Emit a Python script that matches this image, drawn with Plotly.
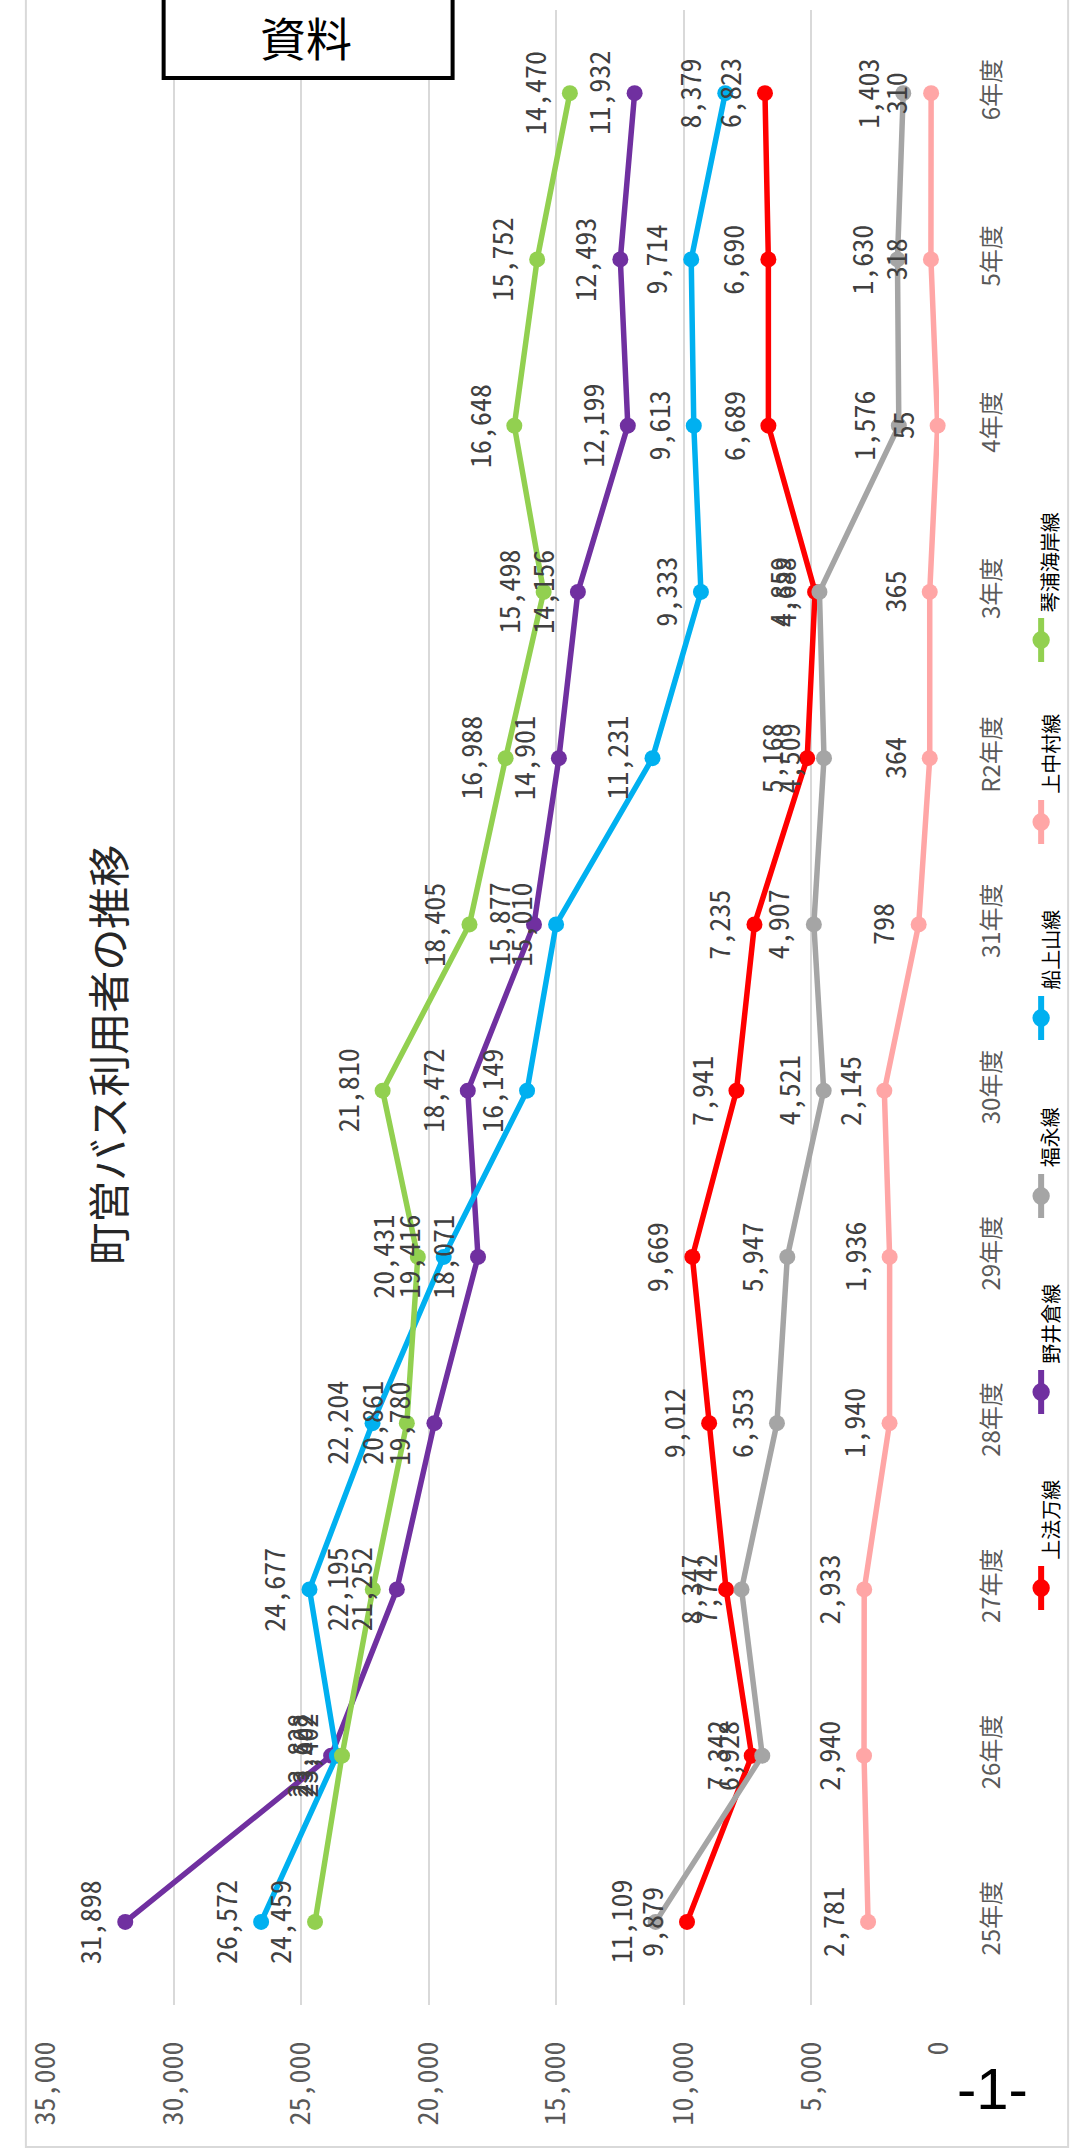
import plotly.graph_objects as go

categories = ["25年度", "26年度", "27年度", "28年度", "29年度", "30年度",
              "31年度", "R2年度", "3年度", "4年度", "5年度", "6年度"]

series_names = ["上法万線", "野井倉線", "福永線", "船上山線", "上中村線", "琴浦海岸線"]
kamihoman = [9879, 7342, 8347, 9012, 9669, 7941, 7235, 5168, 4859, 6689, 6690, 6823]
noikura = [31898, 23828, 21252, 19780, 18071, 18472, 15877, 14901, 14156, 12199, 12493, 11932]
fukunaga = [11109, 6928, 7742, 6353, 5947, 4521, 4907, 4509, 4688, 1576, 1630, 1403]
funanoueyama = [26572, 23602, 24677, 22204, 19416, 16149, 15010, 11231, 9333, 9613, 9714, 8379]
kaminakamura = [2781, 2940, 2933, 1940, 1936, 2145, 798, 364, 365, 55, 318, 310]
kotoura = [24459, 23402, 22195, 20861, 20431, 21810, 18405, 16988, 15498, 16648, 15752, 14470]

series_values = [kamihoman, noikura, fukunaga, funanoueyama, kaminakamura, kotoura]
colors = ["#FF0000", "#7030A0", "#A5A5A5", "#00B0F0", "#FFA6A6", "#92D050"]

W, H = 1088, 2150


def px(x):
    return x / W


def py(y):
    return 1 - y / H


MONO = "Noto Sans Mono CJK JP, Liberation Mono, monospace"
JP = "Noto Sans CJK JP, sans-serif"

fig = go.Figure()

for name, vals, col in zip(series_names, series_values, colors):
    fig.add_trace(go.Scatter(
        x=vals, y=categories, name=name, mode="lines+markers",
        line=dict(color=col, width=5.5),
        marker=dict(color=col, size=16),
        cliponaxis=False, showlegend=False,
    ))

annotations = []
for vals in series_values:
    for cat, v in zip(categories, vals):
        annotations.append(dict(
            x=v, y=cat, xref="x", yref="y", text=f"{v:,}",
            textangle=-90, showarrow=False, xshift=-36,
            xanchor="center", yanchor="middle",
            font=dict(family=MONO, size=28, color="#404040"),
        ))

# title
annotations.append(dict(
    x=px(86), y=py(1055), xref="paper", yref="paper",
    text="町営バス利用者の推移", textangle=-90, showarrow=False,
    xanchor="center", yanchor="middle",
    font=dict(family=JP, size=42, color="#262626"),
))

# legend (rotated)
shapes = []
leg_marker_y = [1588, 1392, 1196, 1018, 822, 640]
leg_x = 1057
for name, col, my in zip(series_names, colors, leg_marker_y):
    shapes.append(dict(type="line", xref="paper", yref="paper",
                       x0=px(leg_x), x1=px(leg_x), y0=py(my - 22), y1=py(my + 22),
                       line=dict(color=col, width=6)))
    shapes.append(dict(type="circle", xref="paper", yref="paper",
                       x0=px(leg_x - 9), x1=px(leg_x + 9), y0=py(my - 9), y1=py(my + 9),
                       fillcolor=col, line=dict(color=col, width=0)))
    n = len(name)
    annotations.append(dict(
        x=px(1066), y=py(my - 30 - n * 9.5), xref="paper", yref="paper",
        text=name, textangle=-90, showarrow=False,
        xanchor="center", yanchor="middle",
        font=dict(family=JP, size=20, color="#000000"),
    ))

# chart border
shapes.append(dict(type="rect", xref="paper", yref="paper", layer="below",
                   x0=px(3), x1=px(1085), y0=py(2147), y1=py(-10),
                   line=dict(color="#D9D9D9", width=2)))

# 資料 box
shapes.append(dict(type="rect", xref="paper", yref="paper",
                   x0=px(146), x1=px(446), y0=py(78), y1=py(-10),
                   fillcolor="#FFFFFF", line=dict(color="#000000", width=4)))
annotations.append(dict(
    x=px(294), y=py(36), xref="paper", yref="paper", text="資料",
    showarrow=False, xanchor="center", yanchor="middle",
    font=dict(family=JP, size=46, color="#000000"),
))

# page number
annotations.append(dict(
    x=px(1007), y=py(2088), xref="paper", yref="paper", text="-1-",
    showarrow=False, xanchor="center", yanchor="middle",
    font=dict(family="Liberation Sans Narrow, Liberation Sans, sans-serif", size=58, color="#000000"),
))

fig.update_layout(
    width=W, height=H,
    margin=dict(l=0, r=0, t=0, b=0),
    paper_bgcolor="#FFFFFF", plot_bgcolor="#FFFFFF",
    showlegend=False,
    xaxis=dict(
        domain=[px(24), px(951)], range=[35000, 0], dtick=5000,
        tickformat=",", showgrid=True, gridcolor="#D9D9D9", gridwidth=1.5,
        zeroline=False, showline=False, ticks="", tickangle=-90,
        ticklabelstandoff=30,
        tickfont=dict(family=MONO, size=28, color="#595959"),
    ),
    yaxis=dict(
        domain=[py(2005), py(10)], type="category",
        categoryorder="array", categoryarray=categories,
        range=[-0.5, 11.5], side="right", showgrid=False,
        zeroline=False, showline=False, ticks="", tickangle=-90,
        ticklabelstandoff=36,
        tickfont=dict(family=JP, size=24, color="#595959"),
    ),
    annotations=annotations,
    shapes=shapes,
)

fig.write_html(
    "out.html",
    config={"displayModeBar": False},
    post_script="document.body.style.margin='0px';document.body.style.overflow='hidden';",
)
